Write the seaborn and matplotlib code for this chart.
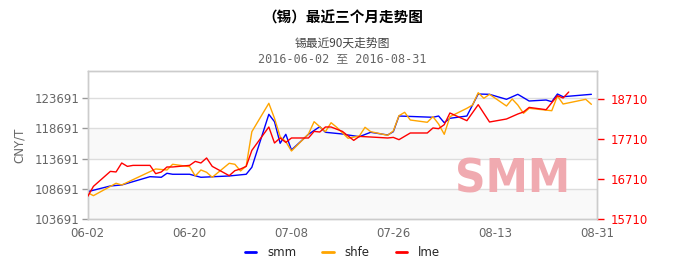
import matplotlib
matplotlib.use("Agg")
import matplotlib.pyplot as plt
import matplotlib.dates as mdates
import seaborn as sns
import pandas as pd
import numpy as np

# ---------------- data (day offsets from 2016-06-02) ----------------
smm_days = [0, 4, 6, 11, 13, 14, 15, 18, 20, 25, 28, 29, 32, 33, 34, 35, 36, 39, 41, 42,
            45, 46, 48, 50, 53, 54, 55, 61, 62, 63, 64, 67, 69, 71, 74, 76, 78, 81, 82, 83, 84, 89]
smm_vals = [108215, 109159, 109325, 110700, 110600, 111264, 111100, 111100, 110600, 110816,
            111100, 112258, 121040, 119814, 116235, 117726, 115124, 117726, 118986, 118058,
            117776, 117610, 117333, 118058, 117610, 118158, 120757, 120545, 120757, 119648,
            120377, 120757, 124404, 124350, 123525, 124354, 123244, 123410, 123127, 124404,
            123956, 124354]

shfe_days = [0, 1, 5, 6, 12, 14, 15, 18, 19, 20, 21, 22, 25, 26, 27, 28, 29, 32, 33, 34, 35,
             36, 39, 40, 42, 43, 44, 46, 48, 49, 50, 53, 54, 55, 56, 57, 60, 61, 62, 63, 64,
             67, 68, 69, 70, 71, 74, 75, 76, 77, 78, 82, 83, 84, 88, 89]
shfe_vals = [108049, 107552, 109607, 109325, 111976, 111810, 112754, 112357, 110816, 111810,
             111429, 110600, 112920, 112754, 111645, 112473, 118158, 122862, 120377, 117330,
             116500, 114958, 117776, 119814, 118158, 119648, 118886, 117064, 117445, 118886,
             118158, 117560, 118272, 120807, 121371, 120095, 119715, 120643, 119433, 117726,
             120643, 122034, 122578, 124620, 123691, 124354, 122415, 123575, 122578, 121205,
             122034, 121635, 124072, 122747, 123525, 122697]

lme_days = [0, 1, 4, 5, 6, 7, 8, 11, 12, 13, 14, 15, 18, 19, 20, 21, 22, 25, 26, 27, 28, 29,
            32, 33, 34, 35, 36, 39, 40, 41, 42, 43, 45, 47, 48, 50, 53, 54, 55, 57, 60, 61,
            62, 63, 64, 67, 69, 71, 74, 76, 77, 78, 81, 83, 84, 85]
lme_vals = [16275, 16525, 16900, 16885, 17110, 17025, 17050, 17050, 16843, 16885, 17010,
            17010, 17050, 17150, 17110, 17235, 17025, 16793, 16918, 16960, 17025, 17425,
            18010, 17610, 17735, 17625, 17735, 17735, 17900, 17885, 18010, 18010, 17900,
            17675, 17775, 17760, 17735, 17750, 17693, 17860, 17860, 17985, 17968, 18068,
            18360, 18168, 18568, 18135, 18210, 18335, 18385, 18500, 18443, 18793, 18735, 18885]

left_ticks = [103691, 108691, 113691, 118691, 123691]
right_ticks = [15710, 16710, 17710, 18710]
x_tick_labels = ["06-02", "06-20", "07-08", "07-26", "08-13", "08-31"]

title = "（锡）最近三个月走势图"
subtitle = "锡最近90天走势图"
daterange = "2016-06-02 至 2016-08-31"

start = pd.Timestamp("2016-06-02")
def to_dates(days):
    return [start + pd.Timedelta(days=d) for d in days]

df_smm = pd.DataFrame({"date": to_dates(smm_days), "value": smm_vals})
df_shfe = pd.DataFrame({"date": to_dates(shfe_days), "value": shfe_vals})
df_lme = pd.DataFrame({"date": to_dates(lme_days), "value": lme_vals})

# ---------------- figure ----------------
sns.set_theme(style="white")
plt.rcParams["font.family"] = ["Noto Sans CJK SC", "DejaVu Sans"]

fig = plt.figure(figsize=(6.75, 2.68), dpi=100)
ax = fig.add_axes([0.130, 0.183, 0.7545, 0.552])
ax2 = ax.twinx()

BLUE, ORANGE, RED = "#0000ff", "#ffa500", "#ff0000"
GRAY = "#666666"

# bands & grid
ax.axhspan(113691, 118691, color="#f9f9f9", zorder=0, lw=0)
ax.axhspan(103691, 108691, color="#f9f9f9", zorder=0, lw=0)
for t in left_ticks[1:]:
    ax.axhline(t, color="#dddddd", lw=1.0, zorder=1)

sns.lineplot(data=df_smm, x="date", y="value", ax=ax, color=BLUE, lw=1.0, zorder=3)
sns.lineplot(data=df_shfe, x="date", y="value", ax=ax, color=ORANGE, lw=1.0, zorder=3)
sns.lineplot(data=df_lme, x="date", y="value", ax=ax2, color=RED, lw=1.0, zorder=3)

x0 = start
x1 = pd.Timestamp("2016-08-31")
ax.set_xlim(x0, x1)
ax.set_ylim(103691, 128215)
ax2.set_ylim(15710, 19410)

ax.set_yticks(left_ticks)
ax.set_yticklabels([str(t) for t in left_ticks])
ax2.set_yticks(right_ticks)
ax2.set_yticklabels([str(t) for t in right_ticks])

xt = [start + pd.Timedelta(days=18 * i) for i in range(6)]
ax.set_xticks(xt)
ax.set_xticklabels(x_tick_labels)

ax.tick_params(axis="x", length=0, pad=6, labelsize=8.5, labelcolor=GRAY)
ax.tick_params(axis="y", left=True, length=4, width=1, color="#999999", pad=2,
               labelsize=8.5, labelcolor=GRAY)
ax2.tick_params(axis="y", right=True, length=5, width=1, color=RED, pad=5,
                labelsize=8.5, labelcolor=RED)
for lab in ax.get_yticklabels() + ax.get_xticklabels():
    lab.set_family("DejaVu Sans")
for lab in ax2.get_yticklabels():
    lab.set_family("DejaVu Sans")

ax.set_xlabel("")
ax.set_ylabel("CNY/T", color=GRAY, fontsize=8.5, labelpad=6, family="DejaVu Sans")
ax2.set_ylabel("")

for a in (ax, ax2):
    for s in a.spines.values():
        s.set_color("#cccccc")
        s.set_linewidth(1)

# watermark
ax.text(0.835, 0.26, "SMM", transform=ax.transAxes, ha="center", va="center",
        fontsize=34, fontweight="heavy", color="#f0aab0", family="DejaVu Sans",
        zorder=2, fontstretch="condensed")

# titles (centered over plot area)
cx = 0.130 + 0.7545 / 2
fig.text(cx, 1 - 18 / 268, title, ha="center", va="center", fontsize=10.5,
         fontweight="bold", color="#000000")
fig.text(cx, 1 - 43 / 268, subtitle, ha="center", va="center", fontsize=8.5, color="#444444")
fig.text(cx, 1 - 59 / 268, daterange, ha="center", va="center", fontsize=8.5, color=GRAY,
         family=["DejaVu Sans Mono", "Noto Sans CJK SC"])

# legend
from matplotlib.lines import Line2D
handles = [Line2D([], [], color=BLUE, lw=2), Line2D([], [], color=ORANGE, lw=2),
           Line2D([], [], color=RED, lw=2)]
leg = fig.legend(handles, ["smm", "shfe", "lme"], loc="center", ncol=3,
                 bbox_to_anchor=(cx, 1 - 253 / 268), frameon=False, fontsize=8.5,
                 handlelength=1.0, handletextpad=0.9, columnspacing=2.2,
                 prop={"family": "DejaVu Sans", "size": 8.5})

fig.savefig("out.png", dpi=100)
